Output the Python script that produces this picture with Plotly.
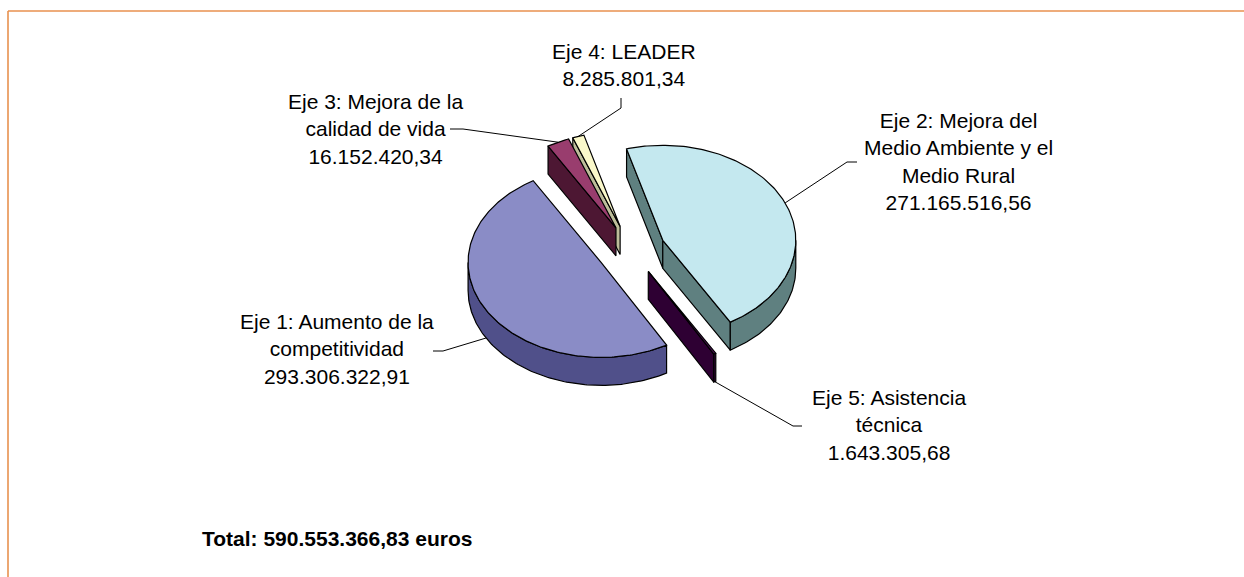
import numpy as np
import plotly.graph_objects as go

# ---------------- data ----------------
categories = [
    ["Eje 1: Aumento de la", "competitividad"],
    ["Eje 3: Mejora de la", "calidad de vida"],
    ["Eje 4: LEADER"],
    ["Eje 2: Mejora del", "Medio Ambiente y el", "Medio Rural"],
    ["Eje 5: Asistencia", "técnica"],
]
values = [293306322.91, 16152420.34, 8285801.34, 271165516.56, 1643305.68]
total_label = "Total: 590.553.366,83 euros"

# ---------------- style / layout ----------------
top_colors = ["#8A8CC6", "#993D6E", "#FAF8CA", "#C4E8EF", "#4A1052"]
side_colors = ["#50508A", "#4D1733", "#BDBD9A", "#5F8080", "#2E0033"]
# label centre (x, y) and leader-line end / elbow (pixel space)
label_pos = [(337, 349), (375, 129), (624, 65), (958, 161), (889, 425)]
leader_end = [((433, 351), (443, 351)), ((450, 129), (463, 129)), ((621, 98), (621, 108)),
              ((857, 162), (847, 162)), ((802, 426), (793, 426))]

W, H = 1244, 577
CX, CY = 631.0, 250.0      # pie centre
RX, RY = 133.0, 95.0       # ellipse radii of the top face
DEPTH = 28.0               # thickness
EXPLODE = 0.26             # explosion (fraction of radius)
START = 60.5               # start angle (deg, clockwise on screen)


def fmt_es(v):
    s = f"{v:,.2f}"
    return s.replace(",", "X").replace(".", ",").replace("X", ".")


tot = sum(values)
spans = [v / tot * 360.0 for v in values]
a_start = START + np.concatenate([[0], np.cumsum(spans)[:-1]])
a_end = a_start + np.array(spans)


def rim(apex, a, dz=0.0):
    r = np.radians(a)
    return apex[0] + RX * np.cos(r), apex[1] + RY * np.sin(r) + dz


slices = []
for i in range(len(values)):
    mid = np.radians((a_start[i] + a_end[i]) / 2)
    apex = (CX + EXPLODE * RX * np.cos(mid), CY + EXPLODE * RY * np.sin(mid))
    slices.append(apex)

fig = go.Figure()


def poly(xs, ys, fill):
    fig.add_trace(go.Scatter(
        x=list(xs) + [xs[0]], y=list(ys) + [ys[0]], mode="lines", fill="toself",
        fillcolor=fill, line=dict(color="black", width=1.2), hoverinfo="skip",
        showlegend=False))


order = sorted(range(len(values)), key=lambda i: slices[i][1])
for i in order:
    apex = slices[i]
    a1, a2 = a_start[i], a_end[i]
    # radius faces
    for a, vis in ((a1, np.cos(np.radians(a1)) < 0), (a2, np.cos(np.radians(a2)) > 0)):
        if vis:
            p = rim(apex, a)
            poly([apex[0], p[0], p[0], apex[0]],
                 [apex[1], p[1], p[1] + DEPTH, apex[1] + DEPTH], side_colors[i])
    # outer wall (front half only)
    for k in (0, 1):
        lo, hi = max(a1, 360 * k), min(a2, 360 * k + 180)
        if hi > lo:
            aa = np.linspace(lo, hi, int(np.ceil(hi - lo)) + 2)
            tx, ty = rim(apex, aa)
            xs = np.concatenate([tx, tx[::-1]])
            ys = np.concatenate([ty, (ty + DEPTH)[::-1]])
            poly(xs, ys, side_colors[i])
    # top face
    aa = np.linspace(a1, a2, int(np.ceil(a2 - a1)) + 2)
    tx, ty = rim(apex, aa)
    poly(np.concatenate([[apex[0]], tx]), np.concatenate([[apex[1]], ty]), top_colors[i])

# leader lines and labels
for i in range(len(values)):
    apex = slices[i]
    mid = (a_start[i] + a_end[i]) / 2
    dz = DEPTH if np.sin(np.radians(mid)) > 0 else 0.0
    p = rim(apex, mid, dz)
    (ex, ey), (bx, by) = leader_end[i]
    fig.add_trace(go.Scatter(x=[p[0], bx, ex], y=[p[1], by, ey], mode="lines",
                             line=dict(color="black", width=1), hoverinfo="skip",
                             showlegend=False))
    text = "<br>".join(categories[i] + [fmt_es(values[i])])
    fig.add_annotation(x=label_pos[i][0], y=label_pos[i][1], text=text, showarrow=False,
                       xanchor="center", yanchor="middle", align="center",
                       font=dict(family="Liberation Sans, Arial, sans-serif", size=21,
                                 color="black"))

fig.add_annotation(x=200, y=538, text="<b>" + total_label + "</b>", showarrow=False,
                   xanchor="left", yanchor="middle",
                   font=dict(family="Liberation Sans, Arial, sans-serif", size=21,
                             color="black"))

# frame (orange)
fig.add_shape(type="line", x0=8, y0=H + 5, x1=8, y1=11, line=dict(color="#E8914F", width=1.6))
fig.add_shape(type="line", x0=8, y0=11, x1=W + 5, y1=11, line=dict(color="#E8914F", width=1.6))

fig.update_layout(
    width=W, height=H, margin=dict(l=0, r=0, t=0, b=0),
    paper_bgcolor="white", plot_bgcolor="white",
    xaxis=dict(range=[0, W], visible=False, fixedrange=True),
    yaxis=dict(range=[H, 0], visible=False, fixedrange=True),
    showlegend=False,
)
fig.write_html("out.html", config={"displayModeBar": False},
               post_script="document.body.style.margin='0';document.body.style.overflow='hidden';")
